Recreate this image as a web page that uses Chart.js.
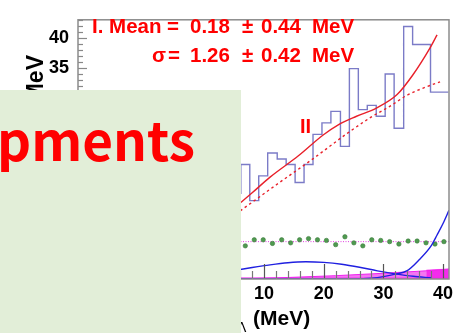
<!DOCTYPE html>
<html><head><meta charset="utf-8">
<script src="https://cdn.jsdelivr.net/npm/chart.js@4.4.1/dist/chart.umd.min.js"></script>
<style>
html,body{margin:0;padding:0;background:#fff;overflow:hidden}
#wrap{position:relative;width:470px;height:333px;overflow:hidden;background:#fff}
#c{position:absolute;left:0;top:0}
.t{position:absolute;white-space:nowrap;font-family:"Liberation Sans",Arial,Helvetica,sans-serif;font-weight:bold;line-height:1;margin:0}
.r{color:#f00;font-size:20.5px}
#box{position:absolute;left:0;top:90px;width:241px;height:243px;background:rgb(226,238,216)}
#big{position:absolute;left:-3px;top:112px;font-family:"Noto Sans CJK JP","Noto Sans",sans-serif;font-weight:bold;font-size:53px;line-height:1;color:#f00;white-space:nowrap}
</style></head><body>
<div id="wrap">
<canvas id="c" width="470" height="333"></canvas>
<div class="t r" style="left:92px;top:15.5px">I. Mean</div>
<div class="t r" style="left:167px;top:15.5px">=</div>
<div class="t r" style="left:190px;top:15.5px">0.18</div>
<div class="t r" style="left:242px;top:15.5px">±</div>
<div class="t r" style="left:261px;top:15.5px">0.44</div>
<div class="t r" style="left:312px;top:15.5px">MeV</div>
<div class="t r" style="left:152px;top:44.5px">σ</div>
<div class="t r" style="left:168px;top:44.5px">=</div>
<div class="t r" style="left:190px;top:44.5px">1.26</div>
<div class="t r" style="left:242px;top:44.5px">±</div>
<div class="t r" style="left:261px;top:44.5px">0.42</div>
<div class="t r" style="left:312px;top:44.5px">MeV</div>
<div class="t r" style="left:300px;top:116px;font-size:20px">II</div>
<div class="t" style="left:237px;top:320px;font-size:14px;font-weight:normal">Λ</div>
<div class="t" style="left:253px;top:307px;font-size:21px">(MeV)</div>
<div id="box"></div>
<div id="big">pments</div>
</div>
<script>
// ---- data ----
const binEdges = [6.1, 7.6, 9.1, 10.6, 12.2, 13.7, 15.2, 16.7, 18.2, 19.7, 21.2, 22.8, 24.3, 25.8, 27.3, 28.8, 30.3, 31.8, 33.4, 34.9, 36.4, 37.9, 39.4, 40.9];
const histCounts = [14.1, 19.0, 13.0, 17.1, 20.9, 19.9, 19.0, 16.0, 19.0, 24.0, 25.9, 27.8, 22.0, 34.9, 28.1, 28.8, 27.0, 34.0, 25.0, 41.9, 38.9, 38.9, 31.0];
const greenPoints = [5.5, 6.5, 6.5, 5.9, 6.5, 6.0, 6.5, 6.7, 6.5, 6.4, 5.7, 7.0, 6.0, 5.5, 6.5, 6.4, 6.2, 5.8, 6.3, 6.3, 6.0, 5.8, 6.2];
const greenLevel = 6.2;
const fitIIx = [6.1, 8, 11, 15.7, 19.9, 22.3, 25.5, 28.9, 32.3, 34.9, 37.8, 39.0];
const fitIIy = [12.7, 14.3, 16.9, 20.4, 23.9, 25.5, 27.0, 28.4, 30.6, 33.8, 38.3, 40.5];
const fitIx = [6.0, 12, 18, 24, 28, 31, 34, 37, 39.5];
const fitIy = [11.3, 15.6, 19.8, 24.2, 26.9, 28.6, 30.5, 31.8, 32.7];
const blueAx = [5, 8, 11, 14, 17, 20, 23, 26, 29, 32, 35, 38];
const blueAy = [1.4, 1.9, 2.35, 2.7, 2.85, 2.75, 2.45, 1.95, 1.35, 0.85, 0.45, 0.2];
const blueBx = [5, 20, 25, 28, 30, 32, 34, 36, 38, 39, 40, 41];
const blueBy = [0, 0, 0.02, 0.15, 0.4, 0.8, 1.4, 3.2, 5.5, 7.3, 9.2, 11.4];
const wedgeX = [-21.2, 6, 14, 22, 30, 37, 41];
const wedgeY = [0, 0, 0.25, 0.55, 0.95, 1.35, 1.65];
const blockX = [37.2, 41];
const blockY = [1.5, 1.65];
const xTickValues = [-20, -10, 0, 10, 20, 30, 40];
const yTickValues = [0, 5, 10, 15, 20, 25, 30, 35, 40];
const yTitle = 'MeV';
const xRange = [-21.2, 41];
const yRange = [0, 43];

const pts = (xs, ys) => xs.map((x, i) => ({x, y: ys[i]}));
const histPts = binEdges.map((e, i) => ({x: e, y: histCounts[Math.min(i, histCounts.length - 1)]}));
const centers = histCounts.map((_, i) => (binEdges[i] + binEdges[i + 1]) / 2);

const frameTicks = {
  id: 'frameTicks',
  afterDatasetsDraw(chart) {
    const {ctx, chartArea: a, scales: {x, y}} = chart;
    ctx.save();
    ctx.lineWidth = 1.2;
    for (let v = -20; v <= 41; v += 2) {
      const px = Math.round(x.getPixelForValue(v)) + 0.5;
      const major = v % 10 === 0;
      ctx.strokeStyle = major ? '#555' : '#777';
      ctx.beginPath(); ctx.moveTo(px, a.bottom); ctx.lineTo(px, a.bottom - (major ? 15 : 8)); ctx.stroke();
    }
    for (let v = 0; v <= 43; v += 1) {
      const py = Math.round(y.getPixelForValue(v)) + 0.5;
      const major = v % 5 === 0;
      ctx.strokeStyle = '#888';
      ctx.beginPath(); ctx.moveTo(a.left, py); ctx.lineTo(a.left + (major ? 9 : 5), py); ctx.stroke();
    }
    ctx.strokeStyle = '#8c8c8c';
    ctx.lineWidth = 1.5;
    ctx.strokeRect(a.left, a.top, a.right - a.left, a.bottom - a.top);
    ctx.restore();
  },
  afterDraw(chart) {
    const ctx = chart.ctx;
    ctx.save();
    ctx.translate(43, 55);
    ctx.rotate(-Math.PI / 2);
    ctx.textAlign = 'right';
    ctx.textBaseline = 'alphabetic';
    ctx.fillStyle = '#000';
    ctx.font = 'bold 23px "Liberation Sans"';
    ctx.fillText(yTitle, 0, 0);
    ctx.restore();
  }
};

new Chart(document.getElementById('c'), {
  type: 'line',
  data: {
    datasets: [
      {data: pts(fitIIx, fitIIy), borderColor: '#e8202a', borderWidth: 1.4, pointRadius: 0, cubicInterpolationMode: 'monotone', fill: false},
      {data: pts(fitIx, fitIy), borderColor: '#e8202a', borderWidth: 1.4, borderDash: [2.5, 3], pointRadius: 0, cubicInterpolationMode: 'monotone', fill: false},
      {data: histPts, borderColor: 'rgba(90,90,185,0.8)', borderWidth: 1.4, stepped: 'after', pointRadius: 0, fill: false},
      {data: pts(blueAx, blueAy), borderColor: '#2020e0', borderWidth: 1.4, pointRadius: 0, cubicInterpolationMode: 'monotone', fill: false},
      {data: pts(blueBx, blueBy), borderColor: '#2020e0', borderWidth: 1.4, pointRadius: 0, cubicInterpolationMode: 'monotone', fill: false},
      {data: pts(centers, greenPoints), showLine: false, pointRadius: 2.2, pointBackgroundColor: '#4f9a50', pointBorderColor: '#3c7a3c', pointBorderWidth: 0.6},
      {data: [{x: xRange[0], y: greenLevel}, {x: xRange[1], y: greenLevel}], borderColor: '#e040e0', borderWidth: 1, borderDash: [1, 1.5], pointRadius: 0, fill: false},
      {data: pts(blockX, blockY), borderColor: 'rgba(240,40,240,0.9)', borderWidth: 0.5, backgroundColor: 'rgba(245,30,235,0.85)', pointRadius: 0, fill: 'origin'},
      {data: pts(wedgeX, wedgeY), borderColor: '#f020f0', borderWidth: 1, backgroundColor: 'rgba(240,60,235,0.7)', pointRadius: 0, fill: 'origin'},
      {data: [{x: xRange[0], y: 0}, {x: xRange[1], y: 0}], borderColor: '#f010f0', borderWidth: 3, pointRadius: 0, fill: false}
    ]
  },
  options: {
    responsive: false, animation: false, events: [],
    layout: {padding: {top: 7, right: 21, left: 0, bottom: 0}},
    plugins: {legend: {display: false}, tooltip: {enabled: false}},
    scales: {
      x: {
        type: 'linear', min: xRange[0], max: xRange[1],
        grid: {display: false, drawTicks: false}, border: {display: false},
        afterBuildTicks: s => { s.ticks = xTickValues.map(v => ({value: v})); },
        afterFit: s => { s.height = 54; },
        ticks: {color: '#000', padding: 4, maxRotation: 0, font: {family: 'Liberation Sans', weight: 'bold', size: 18}}
      },
      y: {
        type: 'linear', min: yRange[0], max: yRange[1],
        grid: {display: false, drawTicks: false}, border: {display: false},
        afterBuildTicks: s => { s.ticks = yTickValues.map(v => ({value: v})); },
        afterFit: s => { s.width = 78; },
        ticks: {color: '#000', padding: 9, font: {family: 'Liberation Sans', weight: 'bold', size: 18}}
      }
    }
  },
  plugins: [frameTicks]
});
</script>
</body></html>
